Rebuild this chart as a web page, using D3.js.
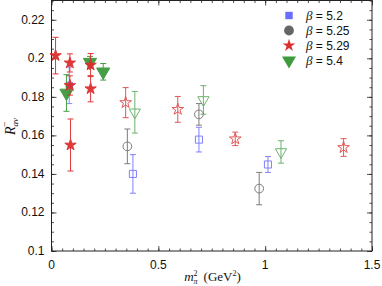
<!DOCTYPE html>
<html>
<head>
<meta charset="utf-8">
<script src="https://cdn.jsdelivr.net/npm/d3@7"></script>
<style>
body { margin: 0; background: #fff; }
svg { display: block; }
.tick-label { font-family: "Liberation Sans", Arial, sans-serif; font-size: 12px; fill: #111; }
.math { font-family: "Liberation Serif", "DejaVu Serif", serif; fill: #111; }
</style>
</head>
<body>
<div class="graph"></div>
<script>
// Define margins
var margin = {top: 0.5, right: 10, bottom: 35, left: 51.5};
var outer_width = 382;
var outer_height = 286;
var svg_width = outer_width - margin.left - margin.right;
var svg_height = outer_height - margin.top - margin.bottom;

// data: [m_pi^2, R, error]
var b52_filled = [[0.083, 0.186, 0.0095]];
var b52_open = [[0.381, 0.140, 0.010], [0.690, 0.1578, 0.0064], [1.013, 0.1449, 0.0041]];
var b525_open = [[0.355, 0.1543, 0.009], [0.690, 0.1709, 0.0056], [0.972, 0.1324, 0.0084]];
var b529_filled = [[0.019, 0.2014, 0.0095], [0.086, 0.1976, 0.0047], [0.086, 0.1859, 0.005],
                   [0.089, 0.155, 0.0135], [0.183, 0.1965, 0.006], [0.183, 0.1842, 0.0068]];
var b529_open = [[0.347, 0.177, 0.0078], [0.591, 0.1735, 0.0067], [0.860, 0.1582, 0.0035], [1.367, 0.1537, 0.0046]];
var b54_filled = [[0.070, 0.182, 0.0095], [0.180, 0.198, 0.003], [0.242, 0.193, 0.0043]];
var b54_open = [[0.390, 0.172, 0.0108], [0.711, 0.1784, 0.0074], [1.074, 0.1514, 0.0058]];

var legendLabels = ["5.2", "5.25", "5.29", "5.4"];
var xTicks = [0, 0.5, 1, 1.5];
var yTicks = [0.1, 0.12, 0.14, 0.16, 0.18, 0.2, 0.22];

var blue = "#6b6bff", grey = "#666666", red = "#dd2e2e", green = "#3d9a3d";

var xScale = d3.scaleLinear().domain([0, 1.5]).range([0, svg_width]);
var yScale = d3.scaleLinear().domain([0.1, 0.23]).range([svg_height, 0]);

var svg = d3.select(".graph")
			.append("svg")
			.attr("width", outer_width)
			.attr("height", outer_height)
			.append("g")
			.attr("transform", "translate(" + margin.left + "," + margin.top + ")");

// ticks pointing inward on all four sides
function addAxis(axis, transform) {
	var g = svg.append("g")
		.attr("transform", transform)
		.call(axis);
	g.select(".domain").remove();
	g.selectAll("line").attr("stroke", "#222").attr("stroke-width", 0.8);
	g.selectAll("text").remove();
}
var xMinor = d3.range(0, 1.5001, 0.05);
var yMinor = d3.range(0.1, 0.23001, 0.005);

addAxis(d3.axisBottom(xScale).tickValues(xMinor).tickSize(-2.5), "translate(0," + svg_height + ")");
addAxis(d3.axisBottom(xScale).tickValues(xTicks).tickSize(-5), "translate(0," + svg_height + ")");
addAxis(d3.axisTop(xScale).tickValues(xMinor).tickSize(-2.5), "translate(0,0)");
addAxis(d3.axisTop(xScale).tickValues(xTicks).tickSize(-5), "translate(0,0)");
addAxis(d3.axisLeft(yScale).tickValues(yMinor).tickSize(-2.5), "translate(0,0)");
addAxis(d3.axisLeft(yScale).tickValues(yTicks).tickSize(-5), "translate(0,0)");
addAxis(d3.axisRight(yScale).tickValues(yMinor).tickSize(-2.5), "translate(" + svg_width + ",0)");
addAxis(d3.axisRight(yScale).tickValues(yTicks).tickSize(-5), "translate(" + svg_width + ",0)");

// frame
svg.append("rect")
	.attr("width", svg_width)
	.attr("height", svg_height)
	.attr("fill", "none")
	.attr("stroke", "#222")
	.attr("stroke-width", 1);

// tick labels
svg.selectAll(".xlab")
	.data(xTicks)
	.enter().append("text")
	.attr("class", "tick-label")
	.attr("x", function(d){ return xScale(d); })
	.attr("y", svg_height + 18)
	.attr("text-anchor", "middle")
	.text(function(d){ return d; });

svg.selectAll(".ylab")
	.data(yTicks)
	.enter().append("text")
	.attr("class", "tick-label")
	.attr("x", -7)
	.attr("y", function(d){ return yScale(d) + 4; })
	.attr("text-anchor", "end")
	.text(function(d){ return +d.toFixed(2); });

// axis titles
var xt = svg.append("text")
	.attr("class", "math")
	.attr("x", 161)
	.attr("y", svg_height + 30)
	.attr("text-anchor", "middle")
	.attr("font-size", 13);
xt.append("tspan").attr("font-style", "italic").text("m");
xt.append("tspan").attr("font-size", 8).attr("dy", 3).attr("font-style", "italic").text("π");
xt.append("tspan").attr("font-size", 8).attr("dx", -4).attr("dy", -8).text("2");
xt.append("tspan").attr("dy", 5).attr("dx", 6).text("(GeV");
xt.append("tspan").attr("font-size", 8).attr("dy", -5).text("2");
xt.append("tspan").attr("dy", 5).text(")");

var yt = svg.append("text")
	.attr("class", "math")
	.attr("transform", "translate(-37,126) rotate(-90)")
	.attr("text-anchor", "middle")
	.attr("font-size", 14);
yt.append("tspan").attr("font-style", "italic").text("R");
yt.append("tspan").attr("font-size", 9).attr("dy", 3).attr("font-style", "italic").text("av");
yt.append("tspan").attr("font-size", 10).attr("dx", -9).attr("dy", -10).text("−");

// symbols
var sq = d3.symbol().type(d3.symbolSquare);
var circ = d3.symbol().type(d3.symbolCircle);
var star = d3.symbol().type(d3.symbolStar);
var tri = d3.symbol().type(d3.symbolTriangle);

function drawSeries(data, color, gen, size, filled, rot, opacity) {
	var g = svg.append("g").attr("opacity", opacity || 1);
	var pts = g.selectAll("g")
		.data(data)
		.enter().append("g");
	// error bars
	pts.append("line")
		.attr("x1", function(d){ return xScale(d[0]); })
		.attr("x2", function(d){ return xScale(d[0]); })
		.attr("y1", function(d){ return yScale(d[1] - d[2]); })
		.attr("y2", function(d){ return yScale(d[1] + d[2]); })
		.attr("stroke", color).attr("stroke-width", 1);
	[-1, 1].forEach(function(s){
		pts.append("line")
			.attr("x1", function(d){ return xScale(d[0]) - 3; })
			.attr("x2", function(d){ return xScale(d[0]) + 3; })
			.attr("y1", function(d){ return yScale(d[1] + s * d[2]); })
			.attr("y2", function(d){ return yScale(d[1] + s * d[2]); })
			.attr("stroke", color).attr("stroke-width", 1);
	});
	pts.append("path")
		.attr("d", gen.size(size)())
		.attr("transform", function(d){
			return "translate(" + xScale(d[0]) + "," + yScale(d[1]) + ") rotate(" + (rot || 0) + ")";
		})
		.attr("fill", filled ? color : "none")
		.attr("stroke", color)
		.attr("stroke-width", 1);
}

drawSeries(b525_open, grey, circ, 60, false, 0, 0.85);
drawSeries(b52_open, blue, sq, 50, false, 0, 0.85);
drawSeries(b54_open, green, tri, 55, false, 180, 0.75);
drawSeries(b529_open, red, star, 42, false, 0, 0.8);
drawSeries(b52_filled, blue, sq, 40, true, 0, 0.8);
drawSeries(b54_filled, green, tri, 75, true, 180, 0.95);
drawSeries(b529_filled, red, star, 40, true, 0, 0.95);

// legend
var legendX = 289 - margin.left;
var legendGens = [[sq, 55, blue, 0], [circ, 75, grey, 0], [star, 50, red, 0], [tri, 85, green, 180]];
legendLabels.forEach(function(lab, i){
	var y = 15 + i * 15;
	svg.append("path")
		.attr("d", legendGens[i][0].size(legendGens[i][1])())
		.attr("transform", "translate(" + legendX + "," + y + ") rotate(" + legendGens[i][3] + ")")
		.attr("fill", legendGens[i][2]);
	var t = svg.append("text")
		.attr("x", legendX + 17)
		.attr("y", y + 4.5)
		.attr("font-size", 12);
	t.append("tspan").attr("class", "math").attr("font-style", "italic").attr("font-size", 13).text("β");
	t.append("tspan").attr("class", "tick-label").text(" = " + lab);
});
</script>
</body>
</html>
